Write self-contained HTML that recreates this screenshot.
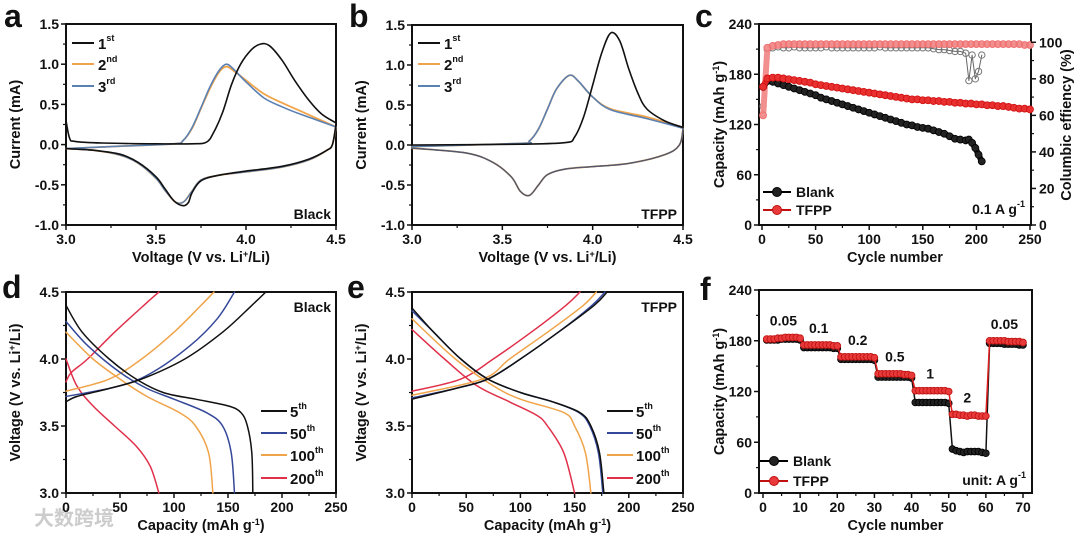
<!DOCTYPE html>
<html><head><meta charset="utf-8"><style>
body{margin:0;background:#fff;}
svg{display:block;font-family:"Liberation Sans",Arial,sans-serif;font-weight:bold;}
</style></head><body>
<svg id="fig" width="1080" height="540" viewBox="0 0 1080 540">
<text x="34" y="525" font-size="20" fill="#ccc" font-family="'Liberation Sans','Noto Sans CJK SC',sans-serif">大数跨境</text>
</svg>
<script>
// ---------- Panel a data (CV, Black) ----------
const aV1f=[3.0,3.02,3.05,3.2,3.5,3.7,3.78,3.82,3.87,3.92,3.97,4.03,4.08,4.13,4.2,4.27,4.35,4.42,4.5];
const aI1f=[0.3,0.08,0.04,0.02,0.01,0.01,0.03,0.15,0.4,0.75,1.0,1.18,1.25,1.23,1.05,0.8,0.55,0.38,0.27];
const aV1r=[4.5,4.48,4.45,4.35,4.2,4.0,3.85,3.75,3.7,3.68,3.65,3.6,3.55,3.5,3.4,3.3,3.15,3.0];
const aI1r=[0.25,0.0,-0.07,-0.18,-0.27,-0.33,-0.38,-0.45,-0.6,-0.72,-0.76,-0.7,-0.55,-0.4,-0.22,-0.12,-0.07,-0.05];
const aV2f=[3.0,3.3,3.6,3.65,3.7,3.75,3.8,3.85,3.89,3.93,4.0,4.1,4.2,4.3,4.4,4.5];
const aI2f=[-0.05,-0.02,0.01,0.05,0.2,0.45,0.7,0.9,0.97,0.92,0.8,0.63,0.52,0.42,0.32,0.22];
const aI3f=[-0.05,-0.02,0.01,0.05,0.21,0.46,0.72,0.92,1.0,0.94,0.78,0.58,0.47,0.38,0.3,0.22];
const aV2r=[4.5,4.48,4.45,4.35,4.2,4.0,3.85,3.75,3.7,3.66,3.63,3.6,3.55,3.5,3.4,3.3,3.15,3.0];
const aI2r=[0.22,0.0,-0.07,-0.19,-0.28,-0.34,-0.38,-0.44,-0.58,-0.7,-0.73,-0.7,-0.57,-0.42,-0.23,-0.13,-0.07,-0.05];
// ---------- Panel b data (CV, TFPP) ----------
const bV1f=[3.0,3.6,3.85,3.9,3.95,4.0,4.05,4.1,4.15,4.2,4.25,4.3,4.4,4.5];
const bI1f=[0.0,0.01,0.03,0.1,0.35,0.75,1.15,1.4,1.3,0.95,0.65,0.45,0.3,0.22];
const bV1r=[4.5,4.48,4.4,4.2,4.0,3.85,3.75,3.7,3.65,3.6,3.55,3.45,3.3,3.0];
const bI1r=[0.2,0.0,-0.12,-0.23,-0.27,-0.3,-0.37,-0.5,-0.63,-0.58,-0.4,-0.22,-0.1,-0.04];
const bV2f=[3.0,3.6,3.65,3.7,3.75,3.8,3.87,3.92,4.0,4.1,4.3,4.5];
const bI2f=[-0.02,0.02,0.05,0.2,0.45,0.7,0.87,0.8,0.6,0.45,0.35,0.22];
const bI3f=[-0.02,0.02,0.05,0.2,0.45,0.7,0.87,0.8,0.6,0.44,0.33,0.21];
// ---------- Panel c data (cycling) ----------
const cBlankCyc=[1,5,10,15,20,25,30,35,40,45,50,55,60,65,70,75,80,85,90,95,100,105,110,115,120,125,130,135,140,145,150,155,160,165,170,175,180,185,190,193,196,199,202,205];
const cBlankCap=[165,172,171,169,167,165,163,161,159,157,155,152,150,148,146,144,142,140,138,136,134,132,130,128,126,124,122,120,119,117,116,115,113,111,109,106,103,102,101,102,98,92,84,76];
const cBlankCE=[65,96,97,97.5,97,97,97.5,97,97,97,97,97,97.5,97,97,97,97,97,97,97,97,97,97.5,97,97,97,97,97,97,97,97,97,96.5,96,96,95.5,95,95,94,79,93,80,84,93];
const cTfppCyc=[1,5,10,15,20,25,30,35,40,45,50,55,60,65,70,75,80,85,90,95,100,105,110,115,120,125,130,135,140,145,150,155,160,165,170,175,180,185,190,195,200,205,210,215,220,225,230,235,240,245,250];
const cTfppCap=[165,175,176,176,175,174,173,172,171,170,168,167,166,165,164,163,162,161,160,159,158,157,156,155,154,153,152,151,150,150,149,149,148,148,147,147,146,146,145,145,144,144,143,143,142,142,141,140,139,139,138];
const cTfppCE=[60,97,98,98.5,99,99,99,99,99,99,99,99,99,99,99,99,99,99,99,99,99,99,99,99,99,99,99,99,99,99,99,99,99,99,99,99,99,99,99,99,99,99,99,99,99,99,99,99,99,98.5,98.5];
// ---------- Panel d data (charge/discharge, Black) ----------
const d5dC=[0,15,40,65,90,120,150,162,168,172,173], d5dV=[4.4,4.2,4.0,3.85,3.75,3.7,3.65,3.6,3.5,3.3,3.0];
const d5cC=[0,10,40,70,110,145,172,185], d5cV=[3.68,3.72,3.78,3.85,4.0,4.2,4.4,4.5];
const d50dC=[0,20,50,75,100,130,145,153,156], d50dV=[4.28,4.1,3.9,3.78,3.7,3.6,3.5,3.3,3.0];
const d50cC=[0,50,80,115,140,156], d50cV=[3.72,3.8,3.9,4.1,4.3,4.5];
const d100dC=[0,25,50,75,105,120,132,136], d100dV=[4.2,4.0,3.85,3.72,3.6,3.5,3.3,3.0];
const d100cC=[0,40,70,100,125,137], d100cV=[3.76,3.85,4.0,4.2,4.4,4.5];
const d200dC=[0,10,25,45,65,78,86], d200dV=[4.0,3.8,3.65,3.5,3.35,3.2,3.0];
const d200cC=[0,5,20,45,72,86], d200cV=[3.83,3.9,4.0,4.2,4.4,4.5];
// ---------- Panel e data (charge/discharge, TFPP) ----------
const e5dC=[0,20,45,70,100,130,155,165,173,177], e5dV=[4.38,4.2,4.0,3.85,3.75,3.68,3.6,3.5,3.3,3.0];
const e5cC=[0,40,70,100,135,168,180], e5cV=[3.7,3.78,3.85,4.0,4.2,4.4,4.5];
const e50dC=[0,20,45,70,100,130,154,164,172,176], e50dV=[4.36,4.2,4.0,3.85,3.75,3.68,3.6,3.5,3.3,3.0];
const e50cC=[0,40,70,100,135,166,178], e50cV=[3.71,3.78,3.85,4.0,4.2,4.4,4.5];
const e100dC=[0,40,75,100,140,150,160,165], e100dV=[4.3,4.0,3.8,3.7,3.6,3.5,3.3,3.0];
const e100cC=[0,65,90,125,158,170], e100cV=[3.73,3.85,4.0,4.2,4.4,4.5];
const e200dC=[0,30,60,90,115,125,140,150], e200dV=[4.22,4.0,3.8,3.68,3.58,3.5,3.3,3.0];
const e200cC=[0,45,75,110,142,155], e200cV=[3.76,3.85,4.0,4.2,4.4,4.5];
// ---------- Panel f data (rate) ----------
const fBlank=[181,181,181,181,182,182,182,182,182,181, 172,172,172,172,172,172,172,172,171,171, 158,158,158,158,158,158,158,158,158,157, 137,137,137,137,137,137,137,137,137,136, 107,107,107,107,107,107,107,107,107,106, 52,50,49,48,49,49,49,49,48,47, 177,177,177,177,176,176,176,176,175,175];
const fTfpp=[182,182,182,183,183,184,184,184,184,183, 175,175,175,175,175,175,175,175,174,174, 161,161,161,161,161,161,161,161,161,160, 141,141,141,141,141,141,141,140,140,139, 121,121,121,121,121,121,121,121,121,120, 93,93,92,92,91,92,92,91,91,91, 180,180,180,180,180,179,179,179,179,178];
const fRates=["0.05","0.1","0.2","0.5","1","2","0.05"];

const NS="http://www.w3.org/2000/svg";
const svg=document.getElementById('fig');
function el(tag,attrs,parent){const e=document.createElementNS(NS,tag);for(const k in attrs)e.setAttribute(k,attrs[k]);(parent||svg).appendChild(e);return e;}
function txt(x,y,s,size,anchor,parent,name){const t=el('text',{x:x,y:y,'font-size':size,'text-anchor':anchor||'start',fill:'#111'},parent);t.innerHTML=s;


return t;}

function panel(o){
  const g=el('g',{});
  
  
  const sx=v=>o.px0+(v-o.xd[0])/(o.xd[1]-o.xd[0])*(o.px1-o.px0);
  const sy=v=>o.py0+(v-o.yd[0])/(o.yd[1]-o.yd[0])*(o.py1-o.py0);
  const fr=el('rect',{x:o.fx0,y:o.py1,width:o.fx1-o.fx0,height:o.py0-o.py1,fill:'none',stroke:'#111','stroke-width':2},g);
  
  
  o.xt.forEach((v,i)=>{el('line',{x1:sx(v),x2:sx(v),y1:o.py0,y2:o.py0+5,stroke:'#111','stroke-width':1.5},g);
    txt(sx(v),o.py0+19,o.xl?o.xl[i]:String(v),14,'middle',g,'x-tick-label');});
  (o.xm||[]).forEach(v=>el('line',{x1:sx(v),x2:sx(v),y1:o.py0,y2:o.py0+3,stroke:'#111','stroke-width':1.2},g));
  o.yt.forEach((v,i)=>{el('line',{x1:o.fx0,x2:o.fx0-5,y1:sy(v),y2:sy(v),stroke:'#111','stroke-width':1.5},g);
    txt(o.fx0-7,sy(v)+5,o.yl[i],14,'end',g,'y-tick-label');});
  (o.ym||[]).forEach(v=>el('line',{x1:o.fx0,x2:o.fx0-3,y1:sy(v),y2:sy(v),stroke:'#111','stroke-width':1.2},g));
  txt((o.fx0+o.fx1)/2,o.py0+37,o.xtitle,14.5,'middle',g,'x-axis-title');
  const yt=txt(0,0,o.ytitle,14.5,'middle',g,'y-axis-title');
  yt.setAttribute('transform',`translate(${o.ytx},${(o.py0+o.py1)/2}) rotate(-90)`);
  txt(o.lx,o.ly,o.letter,32,'start',g,'panel-letter');
  const plot=el('g',{},g);
  return {g,sx,sy,plot};
}
function smoothPath(P){
  let d='M'+P[0][0].toFixed(1)+','+P[0][1].toFixed(1);
  for(let i=0;i<P.length-1;i++){
    const p0=P[i-1]||P[i],p1=P[i],p2=P[i+1],p3=P[i+2]||P[i+1];
    const c1=[p1[0]+(p2[0]-p0[0])/6,p1[1]+(p2[1]-p0[1])/6];
    const c2=[p2[0]-(p3[0]-p1[0])/6,p2[1]-(p3[1]-p1[1])/6];
    d+=' C'+c1[0].toFixed(1)+','+c1[1].toFixed(1)+' '+c2[0].toFixed(1)+','+c2[1].toFixed(1)+' '+p2[0].toFixed(1)+','+p2[1].toFixed(1);
  }
  return d;
}
function line(p,xs,ys,color,w,name,straight){
  const P=xs.map((x,i)=>[p.sx(x),p.sy(ys[i])]);
  const d=straight?'M'+P.map(q=>q[0].toFixed(1)+','+q[1].toFixed(1)).join(' L'):smoothPath(P);
  const l=el('path',{d:d,fill:'none',stroke:color,'stroke-width':w||1.6,'stroke-linejoin':'round','stroke-linecap':'round'},p.plot);
  
  
  return l;
}
function marks(p,xs,ys,fill,stroke,r,name,open){
  xs.forEach((x,i)=>{const c=el('circle',{cx:p.sx(x),cy:p.sy(ys[i]),r:r,fill:open?'none':fill,stroke:stroke,'stroke-width':open?1:0.8},p.plot);
    
    });
}
const BL='#111',OR='#f0a44a',BU='#5b80b2',RD='#e0304a',NB='#34489a';
const cvY=[-1.0,-0.5,0.0,0.5,1.0,1.5], cvYL=['-1.0','-0.5','0.0','0.5','1.0','1.5'];
const cvX=[3.0,3.5,4.0,4.5], cvXL=['3.0','3.5','4.0','4.5'];
const cvXm=[3.25,3.75,4.25], cvYm=[-0.75,-0.25,0.25,0.75,1.25];
const liTitle='Voltage (V vs. Li<tspan baseline-shift="super" font-size="9">+</tspan>/Li)';

const pa=panel({name:'panel-a-cv-black',px0:66,px1:336,fx0:66,fx1:336,py0:225,py1:24,xd:[3.0,4.5],yd:[-1.0,1.5],xt:cvX,xl:cvXL,xm:cvXm,yt:cvY,yl:cvYL,ym:cvYm,xtitle:liTitle,ytitle:'Current (mA)',ytx:20,letter:'a',lx:4,ly:27});
line(pa,aV2f,aI2f,OR,1.8,'cycle-2-anodic');line(pa,aV2r,aI2r,OR,1.8,'cycle-2-cathodic');
line(pa,aV2f,aI3f,BU,1.6,'cycle-3-anodic');line(pa,aV2r,aI2r,BU,1.4,'cycle-3-cathodic');
line(pa,aV1f,aI1f,BL,1.6,'cycle-1-anodic');line(pa,aV1r,aI1r,BL,1.6,'cycle-1-cathodic');
const pb=panel({name:'panel-b-cv-tfpp',px0:412,px1:683,fx0:412,fx1:683,py0:225,py1:25,xd:[3.0,4.5],yd:[-1.0,1.5],xt:cvX,xl:cvXL,xm:cvXm,yt:cvY,yl:cvYL,ym:cvYm,xtitle:liTitle,ytitle:'Current (mA)',ytx:366,letter:'b',lx:349,ly:27});
line(pb,bV2f,bI2f,OR,1.8,'cycle-2-anodic');line(pb,bV1r,bI1r,OR,1.8,'cycle-2-cathodic');
line(pb,bV2f,bI3f,BU,1.6,'cycle-3-anodic');line(pb,bV1r,bI1r,BU,1.4,'cycle-3-cathodic');
line(pb,bV1f,bI1f,BL,1.6,'cycle-1-anodic');line(pb,bV1r,bI1r,'#556',1.2,'cycle-1-cathodic');
function cvLegend(x0,g){[['1','st',BL,43],['2','nd',OR,64],['3','rd',BU,86]].forEach(([n,s,c,y])=>{
  const l=el('line',{x1:x0,x2:x0+22,y1:y,y2:y,stroke:c,'stroke-width':2},g);
  
  txt(x0+26,y+6,n+'<tspan dy="-8" font-size="9">'+s+'</tspan>',15,'start',g,'legend-entry');});}
cvLegend(72,pa.g);cvLegend(418,pb.g);
txt(331,219,'Black',14,'end',pa.g,'sample-label');txt(677,219,'TFPP',14,'end',pb.g,'sample-label');

const pc=panel({name:'panel-c-cycling',px0:762,px1:1030,fx0:759,fx1:1031,py0:225,py1:24,xd:[0,250],yd:[0,240],xt:[0,50,100,150,200,250],xm:[25,75,125,175,225],yt:[0,60,120,180,240],yl:['0','60','120','180','240'],ym:[30,90,150,210],xtitle:'Cycle number',ytitle:'Capacity (mAh g<tspan baseline-shift="super" font-size="9">-1</tspan>)',ytx:724,letter:'c',lx:695,ly:27});
const syR=v=>225-v*(201/110);
[0,20,40,60,80,100].forEach(v=>{el('line',{x1:1031,x2:1036,y1:syR(v),y2:syR(v),stroke:'#111','stroke-width':1.5},pc.g);txt(1039,syR(v)+5,String(v),14,'start',pc.g,'right-tick-label');});
[10,30,50,70,90].forEach(v=>el('line',{x1:1031,x2:1034,y1:syR(v),y2:syR(v),stroke:'#111','stroke-width':1.2},pc.g));
const rt=txt(0,0,'Columbic effiency (%)',14.5,'middle',pc.g,'right-axis-title');rt.setAttribute('transform','translate(1071,125) rotate(-90)');
const ceScale=v=>v*240/110;
line(pc,cBlankCyc,cBlankCE.map(ceScale),'#666',1,'blank-ce-line',true);
marks(pc,cBlankCyc,cBlankCE.map(ceScale),'none','#777',3.2,'blank-ce-marker',true);
line(pc,cTfppCyc,cTfppCE.map(ceScale),'#f29090',6,'tfpp-ce-line',true);
marks(pc,cTfppCyc,cTfppCE.map(ceScale),'none','#ef7070',3.4,'tfpp-ce-marker',true);
line(pc,cBlankCyc,cBlankCap,'#222',6,'blank-capacity-line',true);
marks(pc,cBlankCyc,cBlankCap,'#222','#000',3.5,'blank-capacity-marker');
line(pc,cTfppCyc,cTfppCap,'#e52525',6,'tfpp-capacity-line',true);
marks(pc,cTfppCyc,cTfppCap,'#e83030','#d01010',3.5,'tfpp-capacity-marker');
function capLegend(g,y1,y2,x0){[['Blank','#222','#000',y1],['TFPP','#e83a3a','#c01010',y2]].forEach(([n,f,s,y])=>{
  const l=el('line',{x1:x0,x2:x0+28,y1:y,y2:y,stroke:s,'stroke-width':2},g);
  const c=el('circle',{cx:x0+14,cy:y,r:4.5,fill:f,stroke:s},g);
  txt(x0+33,y+5,n,14,'start',g,'legend-entry');});}
capLegend(pc.g,192,210,763);
txt(1025,214,'0.1 A g<tspan dy="-7" font-size="9">-1</tspan>',14,'end',pc.g,'current-density-label');

const vTitle='Voltage (V vs. Li<tspan baseline-shift="super" font-size="9">+</tspan>/Li)';
const capT='Capacity (mAh g<tspan baseline-shift="super" font-size="9">-1</tspan>)';
const gdY=[3.0,3.5,4.0,4.5], gdYL=['3.0','3.5','4.0','4.5'], gdYm=[3.25,3.75,4.25];
const gdX=[0,50,100,150,200,250], gdXm=[25,75,125,175,225];
const pd=panel({name:'panel-d-gcd-black',px0:66,px1:336,fx0:66,fx1:336,py0:493,py1:292,xd:[0,250],yd:[3.0,4.5],xt:gdX,xm:gdXm,yt:gdY,yl:gdYL,ym:gdYm,xtitle:capT,ytitle:vTitle,ytx:20,letter:'d',lx:2,ly:298});
line(pd,d200dC,d200dV,RD,1.5,'cycle-200-discharge');line(pd,d200cC,d200cV,RD,1.5,'cycle-200-charge');
line(pd,d100dC,d100dV,OR,1.5,'cycle-100-discharge');line(pd,d100cC,d100cV,OR,1.5,'cycle-100-charge');
line(pd,d50dC,d50dV,NB,1.5,'cycle-50-discharge');line(pd,d50cC,d50cV,NB,1.5,'cycle-50-charge');
line(pd,d5dC,d5dV,BL,1.5,'cycle-5-discharge');line(pd,d5cC,d5cV,BL,1.5,'cycle-5-charge');
const pe=panel({name:'panel-e-gcd-tfpp',px0:412,px1:683,fx0:412,fx1:683,py0:493,py1:292,xd:[0,250],yd:[3.0,4.5],xt:gdX,xm:gdXm,yt:gdY,yl:gdYL,ym:gdYm,xtitle:capT,ytitle:vTitle,ytx:366,letter:'e',lx:347,ly:298});
line(pe,e200dC,e200dV,RD,1.5,'cycle-200-discharge');line(pe,e200cC,e200cV,RD,1.5,'cycle-200-charge');
line(pe,e100dC,e100dV,OR,1.5,'cycle-100-discharge');line(pe,e100cC,e100cV,OR,1.5,'cycle-100-charge');
line(pe,e50dC,e50dV,NB,1.5,'cycle-50-discharge');line(pe,e50cC,e50cV,NB,1.5,'cycle-50-charge');
line(pe,e5dC,e5dV,BL,1.5,'cycle-5-discharge');line(pe,e5cC,e5cV,BL,1.5,'cycle-5-charge');
function gdLegend(g,x0){[['5',BL,411],['50',NB,433],['100',OR,455],['200',RD,478]].forEach(([n,c,y])=>{
  const l=el('line',{x1:x0,x2:x0+26,y1:y,y2:y,stroke:c,'stroke-width':2},g);
  txt(x0+29,y+6,n+'<tspan dy="-8" font-size="9">th</tspan>',15,'start',g,'legend-entry');});}
gdLegend(pd.g,261);gdLegend(pe.g,607);
txt(331,312,'Black',14,'end',pd.g,'sample-label');txt(677,312,'TFPP',14,'end',pe.g,'sample-label');

const pf=panel({name:'panel-f-rate',px0:763,px1:1023,fx0:759,fx1:1032,py0:493,py1:290,xd:[0,70],yd:[0,240],xt:[0,10,20,30,40,50,60,70],xm:[5,15,25,35,45,55,65],yt:[0,60,120,180,240],yl:['0','60','120','180','240'],ym:[30,90,150,210],xtitle:'Cycle number',ytitle:capT,ytx:724,letter:'f',lx:700,ly:300});
const fCyc=fBlank.map((_,i)=>i+1);
line(pf,fCyc,fBlank,BL,1.5,'blank-rate-line',true);marks(pf,fCyc,fBlank,'#222','#000',3.4,'blank-rate-marker');
line(pf,fCyc,fTfpp,'#e02020',1.5,'tfpp-rate-line',true);marks(pf,fCyc,fTfpp,'#e83a3a','#c01010',3.4,'tfpp-rate-marker');
const fLabX=[5.5,15,25.5,35.5,45,55,65];
fRates.forEach((r,i)=>{const m=Math.max(...fTfpp.slice(i*10,i*10+10));txt(pf.sx(fLabX[i]),pf.sy(m)-12,r,14,'middle',pf.g,'rate-label');});
capLegend(pf.g,461,481,760);
txt(1026,485,'unit: A g<tspan dy="-7" font-size="9">-1</tspan>',14,'end',pf.g,'unit-label');
</script>
</body></html>
